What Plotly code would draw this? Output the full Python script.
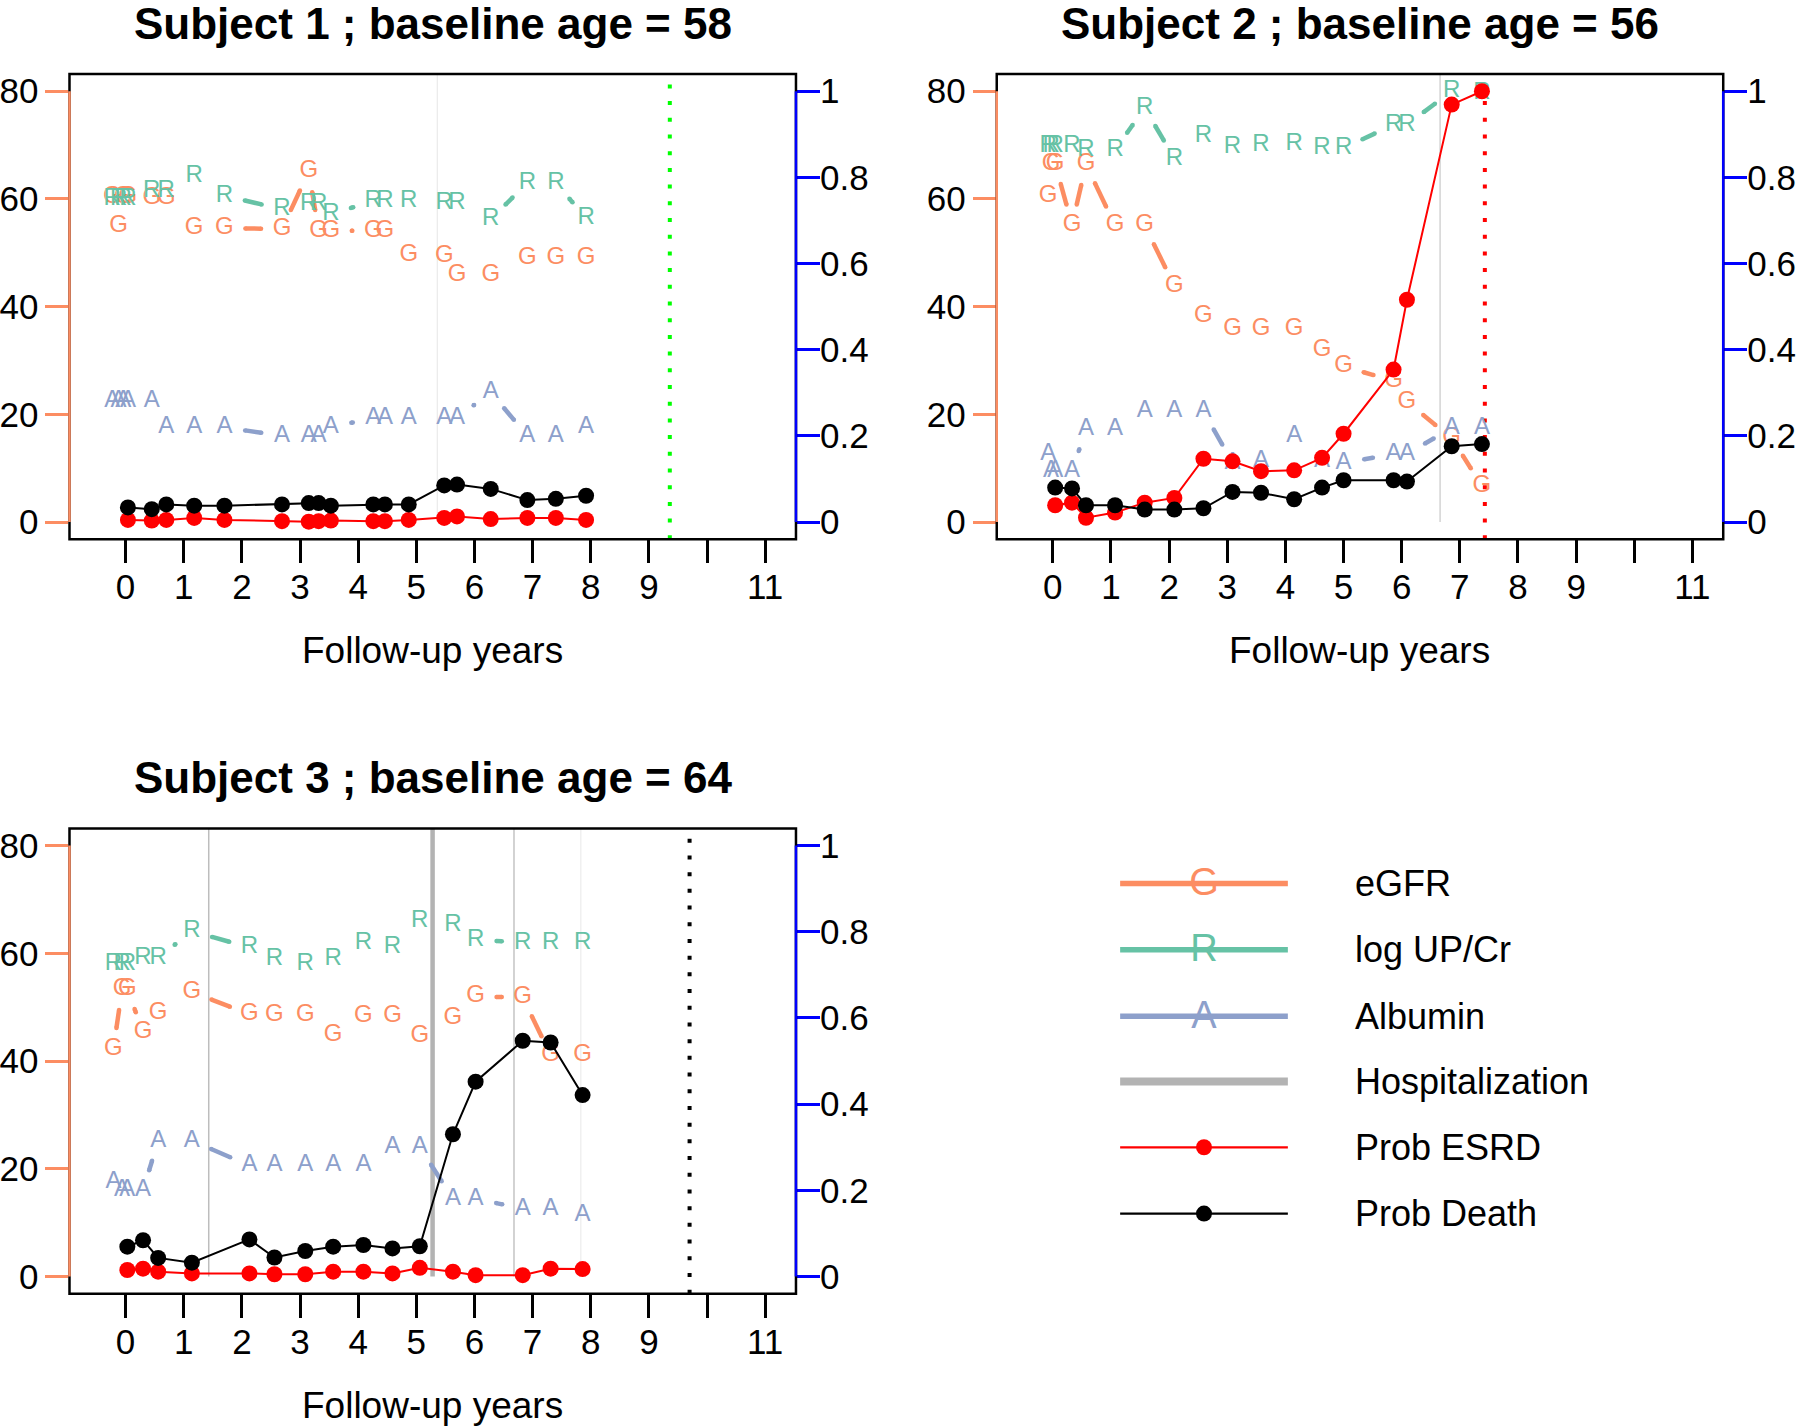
import math
import plotly.graph_objects as go

FONT = "Liberation Sans, Arial, Helvetica, sans-serif"
W, H = 1800, 1427

C_EGFR = "#FC8D62"
C_UPCR = "#66C2A5"
C_ALB = "#8DA0CB"
C_HOSP = "#B3B3B3"
C_ESRD = "#FF0000"
C_DEATH = "#000000"

# ---------------- data ----------------
titles = ["Subject 1 ; baseline age = 58", "Subject 2 ; baseline age = 56", "Subject 3 ; baseline age = 64"]

times1 = [-0.23, -0.12, -0.04, 0.04, 0.45, 0.70, 1.18, 1.70, 2.69, 3.15, 3.32, 3.53, 4.26, 4.46, 4.87, 5.48, 5.70, 6.28, 6.91, 7.40, 7.92]
egfr1 = [60.3, 55.0, 60.3, 60.3, 60.1, 60.1, 54.6, 54.6, 54.4, 65.1, 54.1, 54.1, 54.1, 54.1, 49.6, 49.4, 45.9, 45.8, 49.1, 49.1, 49.0]
upcr1 = [60.0, 60.0, 60.0, 60.0, 61.5, 61.5, 64.3, 60.6, 58.1, 59.0, 59.0, 57.2, 59.6, 59.6, 59.6, 59.3, 59.3, 56.2, 63.0, 63.0, 56.4]
alb1 = [22.4, 22.4, 22.4, 22.4, 22.4, 17.6, 17.6, 17.6, 16.0, 16.0, 16.0, 17.6, 19.3, 19.3, 19.3, 19.3, 19.3, 24.1, 16.0, 16.0, 17.6]
ptimes1 = [0.04, 0.45, 0.70, 1.18, 1.70, 2.69, 3.15, 3.32, 3.53, 4.26, 4.46, 4.87, 5.48, 5.70, 6.28, 6.91, 7.40, 7.92]
esrd1 = [0.005, 0.0035, 0.005, 0.0097, 0.005, 0.002, 0.001, 0.002, 0.0035, 0.002, 0.002, 0.005, 0.0097, 0.013, 0.007, 0.0097, 0.0097, 0.005]
death1 = [0.034, 0.030, 0.041, 0.038, 0.038, 0.041, 0.044, 0.044, 0.038, 0.041, 0.041, 0.041, 0.085, 0.087, 0.077, 0.051, 0.054, 0.061]
hosp1 = [5.36]
hospw1 = [1.0]
hospc1 = ["#E6E6E6"]
event1 = 9.36
eventc1 = "#00FF00"

times2 = [-0.08, -0.03, 0.04, 0.33, 0.57, 1.07, 1.58, 2.09, 2.59, 3.09, 3.58, 4.15, 4.63, 5.00, 5.86, 6.09, 6.86, 7.38]
egfr2 = [60.5, 66.5, 66.5, 55.2, 66.4, 55.1, 55.1, 43.8, 38.2, 35.9, 35.9, 35.9, 32.0, 28.9, 26.2, 22.3, 15.6, 6.7]
upcr2 = [69.9, 69.9, 69.9, 69.9, 69.1, 69.1, 76.9, 67.5, 71.6, 69.7, 70.1, 70.2, 69.4, 69.4, 73.8, 73.8, 80.0, 79.6]
alb2 = [12.6, 9.5, 9.5, 9.5, 17.2, 17.2, 20.6, 20.6, 20.6, 11.0, 11.3, 16.0, 11.3, 11.0, 12.6, 12.6, 17.5, 17.5]
ptimes2 = [0.04, 0.33, 0.57, 1.07, 1.58, 2.09, 2.59, 3.09, 3.58, 4.15, 4.63, 5.00, 5.86, 6.09, 6.86, 7.38]
esrd2 = [0.039, 0.045, 0.010, 0.022, 0.045, 0.056, 0.147, 0.141, 0.118, 0.120, 0.149, 0.205, 0.354, 0.516, 0.969, 1.0]
death2 = [0.080, 0.078, 0.039, 0.039, 0.029, 0.029, 0.032, 0.070, 0.068, 0.053, 0.080, 0.097, 0.097, 0.094, 0.176, 0.181]
hosp2 = [6.66]
hospw2 = [1.2]
hospc2 = ["#C8C8C8"]
event2 = 7.43
eventc2 = "#FF0000"

times3 = [-0.21, -0.06, 0.03, 0.30, 0.56, 1.14, 2.13, 2.56, 3.09, 3.57, 4.09, 4.59, 5.06, 5.63, 6.02, 6.83, 7.31, 7.86]
egfr3 = [42.3, 53.3, 53.3, 45.4, 48.9, 52.8, 48.7, 48.5, 48.5, 44.8, 48.3, 48.3, 44.6, 47.9, 52.0, 51.8, 41.1, 41.1]
upcr3 = [58.0, 58.0, 58.0, 59.2, 59.2, 64.1, 61.1, 59.0, 58.0, 59.0, 62.0, 61.1, 66.0, 65.2, 62.5, 62.0, 62.0, 61.9]
alb3 = [17.5, 16.0, 16.0, 16.0, 25.2, 25.2, 20.6, 20.6, 20.6, 20.6, 20.6, 24.0, 24.0, 14.4, 14.4, 12.6, 12.6, 11.4]
ptimes3 = [0.03, 0.30, 0.56, 1.14, 2.13, 2.56, 3.09, 3.57, 4.09, 4.59, 5.06, 5.63, 6.02, 6.83, 7.31, 7.86]
esrd3 = [0.015, 0.018, 0.011, 0.007, 0.007, 0.005, 0.005, 0.011, 0.011, 0.007, 0.020, 0.011, 0.003, 0.003, 0.018, 0.017]
death3 = [0.069, 0.084, 0.043, 0.032, 0.086, 0.044, 0.059, 0.069, 0.073, 0.065, 0.070, 0.330, 0.452, 0.547, 0.543, 0.421]
hosp3 = [1.43, 5.28, 6.68, 7.83]
hospw3 = [1.5, 4.5, 1.5, 1.0]
hospc3 = ["#BDBDBD", "#B3B3B3", "#C4C4C4", "#E8E8E8"]
event3 = 9.70
eventc3 = "#000000"

x_tickvals = list(range(0, 12))
x_ticktext = ["0", "1", "2", "3", "4", "5", "6", "7", "8", "9", "", "11"]
yl_tickvals = [0, 20, 40, 60, 80]
yr_tickvals = [0, 0.2, 0.4, 0.6, 0.8, 1]
yr_ticktext = ["0", "0.2", "0.4", "0.6", "0.8", "1"]

legend_labels = ["eGFR", "log UP/Cr", "Albumin", "Hospitalization", "Prob ESRD", "Prob Death"]

# ---------------- layout geometry ----------------
XR = [-0.965, 11.53]
YR = [-3.2, 83.2]
YR2 = [YR[0] / 80, YR[1] / 80]
PX_PER_X = 58.24
PX_PER_Y = 5.4
GAP = 21.0
LETTER_SIZE = 24


def px(x):
    return x / W


def py(y):
    return 1 - y / H


xdom_left = [px(66.6), px(794.3)]
xdom_right = [px(995.4), px(1723.1)]
ydom_top = [py(538.8), py(72.2)]
ydom_bot = [py(1295.3), py(828.7)]


def gapped(t, v):
    X, Y = [], []
    for i in range(len(t) - 1):
        dxp = (t[i + 1] - t[i]) * PX_PER_X
        dyp = (v[i + 1] - v[i]) * PX_PER_Y
        L = math.hypot(dxp, dyp)
        if L > 2 * GAP:
            f0 = GAP / L
            f1 = 1 - f0
            X += [t[i] + f0 * (t[i + 1] - t[i]), t[i] + f1 * (t[i + 1] - t[i]), None]
            Y += [v[i] + f0 * (v[i + 1] - v[i]), v[i] + f1 * (v[i + 1] - v[i]), None]
    return X, Y


fig = go.Figure()
shapes = []
annotations = []

panels = [
    dict(t=times1, g=egfr1, r=upcr1, a=alb1, pt=ptimes1, esrd=esrd1, death=death1,
         hosp=hosp1, hw=hospw1, hc=hospc1, ev=event1, evc=eventc1,
         xa="x", ya="y", ya2="y2", xdom=xdom_left, ydom=ydom_top, title=titles[0]),
    dict(t=times2, g=egfr2, r=upcr2, a=alb2, pt=ptimes2, esrd=esrd2, death=death2,
         hosp=hosp2, hw=hospw2, hc=hospc2, ev=event2, evc=eventc2,
         xa="x2", ya="y3", ya2="y4", xdom=xdom_right, ydom=ydom_top, title=titles[1]),
    dict(t=times3, g=egfr3, r=upcr3, a=alb3, pt=ptimes3, esrd=esrd3, death=death3,
         hosp=hosp3, hw=hospw3, hc=hospc3, ev=event3, evc=eventc3,
         xa="x3", ya="y5", ya2="y6", xdom=xdom_left, ydom=ydom_bot, title=titles[2]),
]

for p in panels:
    xa, ya, ya2 = p["xa"], p["ya"], p["ya2"]
    # hospitalization lines
    for ht, hw, hc in zip(p["hosp"], p["hw"], p["hc"]):
        fig.add_trace(go.Scatter(x=[ht, ht], y=[0, YR[1]], mode="lines",
                                 line=dict(color=hc, width=hw), xaxis=xa, yaxis=ya,
                                 hoverinfo="skip"))
    # event dotted line
    fig.add_trace(go.Scatter(x=[p["ev"], p["ev"]], y=[YR[0], YR[1]], mode="lines",
                             line=dict(color=p["evc"], width=4, dash="4px,12.7px"),
                             xaxis=xa, yaxis=ya, hoverinfo="skip"))
    # letter series
    for vals, col, letter in [(p["g"], C_EGFR, "G"), (p["r"], C_UPCR, "R"), (p["a"], C_ALB, "A")]:
        gx, gy = gapped(p["t"], vals)
        fig.add_trace(go.Scatter(x=gx, y=gy, mode="lines+markers",
                                 line=dict(color=col, width=4.5),
                                 marker=dict(color=col, size=4.5),
                                 xaxis=xa, yaxis=ya, hoverinfo="skip"))
        fig.add_trace(go.Scatter(x=p["t"], y=vals, mode="text", text=[letter] * len(vals),
                                 textposition="middle center",
                                 textfont=dict(family=FONT, size=LETTER_SIZE, color=col),
                                 xaxis=xa, yaxis=ya))
    # probabilities
    fig.add_trace(go.Scatter(x=p["pt"], y=p["esrd"], mode="lines+markers",
                             line=dict(color=C_ESRD, width=2),
                             marker=dict(color=C_ESRD, size=16),
                             xaxis=xa, yaxis=ya2))
    fig.add_trace(go.Scatter(x=p["pt"], y=p["death"], mode="lines+markers",
                             line=dict(color=C_DEATH, width=2),
                             marker=dict(color=C_DEATH, size=16),
                             xaxis=xa, yaxis=ya2))
    # box
    xd = xa + " domain"
    shapes.append(dict(type="rect", xref=xd, yref=ya + " domain", x0=0, x1=1, y0=0, y1=1,
                       line=dict(color="black", width=2.5), layer="above"))
    shapes.append(dict(type="line", xref=xd, yref=ya, x0=0, x1=0, y0=0, y1=80,
                       line=dict(color=C_EGFR, width=2.5), layer="above"))
    shapes.append(dict(type="line", xref=xd, yref=ya2, x0=1, x1=1, y0=0, y1=1,
                       line=dict(color="#0000FF", width=2.5), layer="above"))
    # titles
    cx = (p["xdom"][0] + p["xdom"][1]) / 2
    top_px = (1 - p["ydom"][1]) * H
    bot_px = (1 - p["ydom"][0]) * H
    annotations.append(dict(text="<b>" + p["title"] + "</b>", x=cx, y=py(top_px - 51),
                            xref="paper", yref="paper", showarrow=False,
                            xanchor="center", yanchor="middle",
                            font=dict(family=FONT, size=44, color="black")))
    annotations.append(dict(text="Follow-up years", x=cx, y=py(bot_px + 112),
                            xref="paper", yref="paper", showarrow=False,
                            xanchor="center", yanchor="middle",
                            font=dict(family=FONT, size=37, color="black")))

# ---------------- legend (drawn in pixel space on a hidden overlay axis) ----------------
leg_rows = [884, 950.5, 1017, 1082.6, 1148.5, 1215]
leg_x0, leg_x1, leg_xm, leg_tx = 1119, 1287, 1203, 1352
leg_styles = [
    dict(color=C_EGFR, width=5.5, letter="G"),
    dict(color=C_UPCR, width=5.5, letter="R"),
    dict(color=C_ALB, width=5.5, letter="A"),
    dict(color=C_HOSP, width=8, letter=None),
    dict(color=C_ESRD, width=2.2, letter=None, marker=True),
    dict(color=C_DEATH, width=2.2, letter=None, marker=True),
]
for ry, st, lab in zip(leg_rows, leg_styles, legend_labels):
    fig.add_trace(go.Scatter(x=[leg_x0, leg_x1], y=[ry, ry], mode="lines",
                             line=dict(color=st["color"], width=st["width"]),
                             xaxis="x4", yaxis="y7", hoverinfo="skip"))
    if st["letter"]:
        fig.add_trace(go.Scatter(x=[leg_xm], y=[ry + 2], mode="text", text=[st["letter"]],
                                 textposition="middle center",
                                 textfont=dict(family=FONT, size=38, color=st["color"]),
                                 xaxis="x4", yaxis="y7", hoverinfo="skip"))
    if st.get("marker"):
        fig.add_trace(go.Scatter(x=[leg_xm], y=[ry], mode="markers",
                                 marker=dict(color=st["color"], size=16),
                                 xaxis="x4", yaxis="y7", hoverinfo="skip"))
    annotations.append(dict(text=lab, x=px(leg_tx), y=py(ry), xref="paper", yref="paper",
                            showarrow=False, xanchor="left", yanchor="middle",
                            font=dict(family=FONT, size=36, color="black")))

# ---------------- axes ----------------
tickfont = dict(family=FONT, size=35, color="black")


def xaxis_cfg(dom, anchor):
    return dict(domain=dom, anchor=anchor, range=XR, showgrid=False, zeroline=False,
                showline=False, ticks="outside", ticklen=23, tickwidth=2.5, tickcolor="black",
                tickmode="array", tickvals=x_tickvals, ticktext=x_ticktext,
                tickfont=tickfont, ticklabelstandoff=-6, fixedrange=True)


def yl_cfg(dom, anchor):
    return dict(domain=dom, anchor=anchor, range=YR, showgrid=False, zeroline=False,
                showline=False, ticks="outside", ticklen=23, tickwidth=2.5, tickcolor=C_EGFR,
                tickmode="array", tickvals=yl_tickvals, tickfont=tickfont, fixedrange=True)


def yr_cfg(overlay, anchor):
    return dict(overlaying=overlay, anchor=anchor, side="right", range=YR2, showgrid=False,
                zeroline=False, showline=False, ticks="outside", ticklen=23, tickwidth=2.5,
                tickcolor="#0000FF", tickmode="array", tickvals=yr_tickvals,
                ticktext=yr_ticktext, tickfont=tickfont, ticklabelstandoff=-7,
                fixedrange=True)


fig.update_layout(
    width=W, height=H,
    margin=dict(l=0, r=0, t=0, b=0),
    paper_bgcolor="white", plot_bgcolor="rgba(0,0,0,0)",
    showlegend=False,
    font=dict(family=FONT),
    xaxis=xaxis_cfg(xdom_left, "y"),
    yaxis=yl_cfg(ydom_top, "x"),
    yaxis2=yr_cfg("y", "x"),
    xaxis2=xaxis_cfg(xdom_right, "y3"),
    yaxis3=yl_cfg(ydom_top, "x2"),
    yaxis4=yr_cfg("y3", "x2"),
    xaxis3=xaxis_cfg(xdom_left, "y5"),
    yaxis5=yl_cfg(ydom_bot, "x3"),
    yaxis6=yr_cfg("y5", "x3"),
    xaxis4=dict(domain=[0, 1], range=[0, W], visible=False, anchor="y7", fixedrange=True),
    yaxis7=dict(domain=[0, 1], range=[H, 0], visible=False, anchor="x4", fixedrange=True),
    shapes=shapes,
    annotations=annotations,
)

fig.write_html("out.html", config={"displayModeBar": False})
with open("out.html", "r", encoding="utf-8") as f:
    html = f.read()
html = html.replace("<body>", '<body style="margin:0;padding:0;overflow:hidden">', 1)
with open("out.html", "w", encoding="utf-8") as f:
    f.write(html)
